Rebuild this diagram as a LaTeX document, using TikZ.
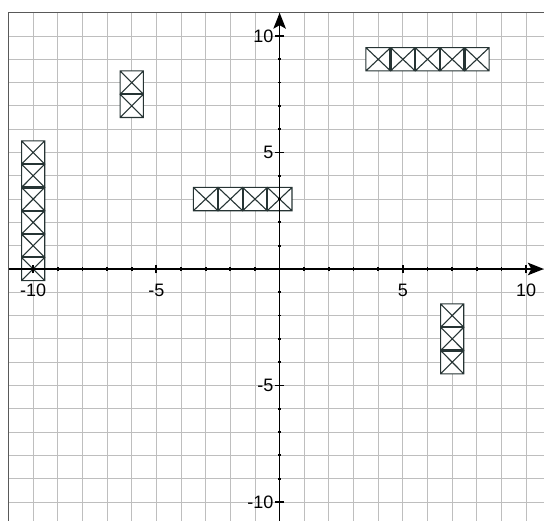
\documentclass[tikz,border=0pt]{standalone}
\usepackage{fontspec}
\setmainfont{Liberation Sans}
\usetikzlibrary{arrows.meta}
\definecolor{cellcol}{RGB}{38,52,52}
\definecolor{gridcol}{RGB}{190,190,190}
\begin{document}
\begin{tikzpicture}[x=24.65pt,y=23.3pt,
  gridline/.style={gridcol,line width=0.9pt},
  frameline/.style={black!65,line width=1.4pt},
  cellbox/.style={draw=cellcol,fill=white,line width=1.1pt},
  divider/.style={cellcol,line width=2.2pt},
  axisline/.style={black,line width=1.7pt,-{Stealth[length=16pt,width=12.5pt,inset=3.5pt]}},
  minortick/.style={black,line width=1.8pt},
  majortick/.style={black,line width=1.9pt},
  numlabel/.style={inner sep=0pt,font=\fontsize{18}{21}\selectfont}]
\useasboundingbox (-11.345,-10.815) rectangle (10.725,11.545);
\begin{scope}
\clip (-11.345,-10.815) rectangle (10.725,11.545);
\foreach \i in {-11,...,11} {
  \draw[gridline] (\i,-11) -- (\i,11);
  \draw[gridline] (-11,\i) -- (11,\i);
}
\draw[frameline] (-11,-11) -- (-11,11) -- (11,11);
\end{scope}
\foreach \y in {0,...,5}
  \draw[cellbox] (-10.47,\y-.5) rectangle (-9.53,\y+.5) -- (-10.47,\y-.5) (-10.47,\y+.5) -- (-9.53,\y-.5);
\foreach \y in {0.5,1.5,...,4.5}
  \draw[divider] (-10.47,\y) -- (-9.53,\y);
\foreach \y in {7,8}
  \draw[cellbox] (-6.47,\y-.5) rectangle (-5.53,\y+.5) -- (-6.47,\y-.5) (-6.47,\y+.5) -- (-5.53,\y-.5);
\draw[divider] (-6.47,7.5) -- (-5.53,7.5);
\foreach \x in {-3,...,0}
  \draw[cellbox] (\x-.5,2.5) rectangle (\x+.5,3.5) -- (\x-.5,2.5) (\x-.5,3.5) -- (\x+.5,2.5);
\foreach \x in {-2.5,-1.5,-0.5}
  \draw[divider] (\x,2.5) -- (\x,3.5);
\foreach \x in {4,...,8}
  \draw[cellbox] (\x-.5,8.5) rectangle (\x+.5,9.5) -- (\x-.5,8.5) (\x-.5,9.5) -- (\x+.5,8.5);
\foreach \x in {4.5,5.5,...,7.5}
  \draw[divider] (\x,8.5) -- (\x,9.5);
\foreach \y in {-4,...,-2}
  \draw[cellbox] (6.53,\y-.5) rectangle (7.47,\y+.5) -- (6.53,\y-.5) (6.53,\y+.5) -- (7.47,\y-.5);
\foreach \y in {-3.5,-2.5}
  \draw[divider] (6.53,\y) -- (7.47,\y);
\coordinate (xstart) at (-11,0);
\coordinate (xend) at (10.72,0);
\coordinate (ystart) at (0,-11);
\coordinate (yend) at (0,11);
\draw[axisline] (xstart) -- (xend);
\draw[axisline] (ystart) -- (yend);
\foreach \t in {-9,-8,-7,-6,-4,-3,-2,-1,1,2,3,4,6,7,8,9} {
  \draw[minortick] (\t,-.07) -- (\t,.07);
  \draw[minortick] (-.07,\t) -- (.07,\t);
}
\foreach \t in {-10,-5,5,10} {
  \draw[majortick] (\t,-.19) -- (\t,.19);
  \draw[majortick] (-.18,\t) -- (.18,\t);
  \node[numlabel] (xl\t) at (\t,-.9) {\t};
  \node[numlabel,anchor=east] (yl\t) at (-.25,\t) {\t};
}
\end{tikzpicture}
\end{document}
